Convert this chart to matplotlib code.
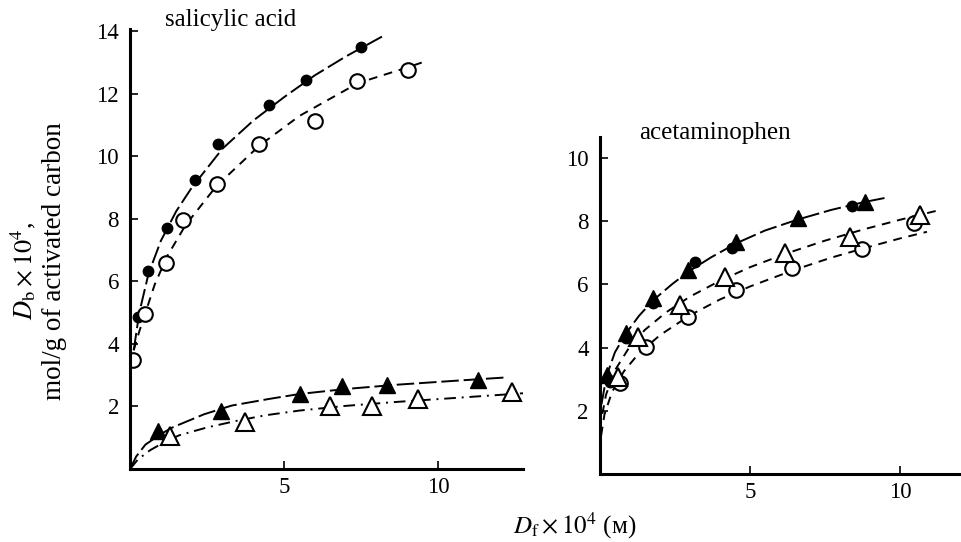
import matplotlib
matplotlib.use("Agg")
import matplotlib.pyplot as plt

plt.rcParams['font.family'] = ['Liberation Serif', 'DejaVu Serif']
plt.rcParams['mathtext.fontset'] = 'stix'

# ---------------- salicylic acid (left panel) ----------------
sa_fc_x = [0.26, 0.58, 1.2, 2.1, 2.87, 4.5, 5.7, 7.5]
sa_fc_y = [4.86, 6.34, 7.7, 9.25, 10.4, 11.65, 12.45, 13.5]
sa_oc_x = [0.1, 0.49, 1.17, 1.73, 2.83, 4.19, 6.0, 7.37, 9.03]
sa_oc_y = [3.5, 4.96, 6.6, 7.97, 9.12, 10.4, 11.14, 12.4, 12.77]
sa_ft_x = [0.92, 2.95, 5.52, 6.88, 8.35, 11.3]
sa_ft_y = [1.2, 1.86, 2.4, 2.66, 2.7, 2.85]
sa_ot_x = [1.3, 3.73, 6.49, 7.86, 9.35, 12.4]
sa_ot_y = [1.06, 1.5, 2.01, 2.01, 2.23, 2.46]

# fitted curves
sa_fc_cx = [0.12, 0.3, 0.6, 1.0, 1.5, 2.0, 3.0, 4.0, 5.0, 6.0, 7.0, 8.2]
sa_fc_cy = [3.8, 5.0, 6.25, 7.3, 8.25, 9.0, 10.25, 11.15, 11.9, 12.6, 13.2, 13.85]
sa_oc_cx = [0.12, 0.3, 0.5, 0.8, 1.2, 1.8, 2.8, 4.2, 5.5, 7.4, 9.0, 9.6]
sa_oc_cy = [3.8, 4.4, 5.0, 5.9, 6.8, 7.8, 9.05, 10.35, 11.3, 12.35, 12.85, 13.05]
sa_ft_cx = [0, 0.2, 0.5, 1.0, 1.4, 2.4, 3.3, 4.5, 5.5, 7.0, 8.7, 10.5, 12.2]
sa_ft_cy = [0, 0.4, 0.78, 1.12, 1.34, 1.75, 2.03, 2.24, 2.4, 2.56, 2.7, 2.82, 2.93]
sa_ot_cx = [0, 0.25, 0.65, 1.1, 1.6, 2.5, 3.5, 4.4, 5.5, 7.0, 8.7, 10.5, 13.0]
sa_ot_cy = [0, 0.3, 0.6, 0.85, 1.08, 1.33, 1.55, 1.72, 1.87, 2.02, 2.15, 2.27, 2.44]

# ---------------- acetaminophen (right panel) ----------------
ac_ft_x = [0.22, 0.87, 1.78, 2.95, 4.55, 6.6, 8.83]
ac_ft_y = [3.13, 4.46, 5.57, 6.46, 7.34, 8.1, 8.6]
ac_fc_x = [0.33, 0.87, 1.78, 3.17, 4.4, 8.4]
ac_fc_y = [2.9, 4.3, 5.4, 6.7, 7.15, 8.48]
ac_ot_x = [0.6, 1.27, 2.67, 4.17, 6.17, 8.33, 10.67]
ac_ot_y = [3.07, 4.34, 5.35, 6.23, 6.99, 7.5, 8.2]
ac_oc_x = [0.67, 1.53, 2.95, 4.55, 6.4, 8.73, 10.47]
ac_oc_y = [2.88, 4.02, 4.97, 5.82, 6.52, 7.12, 7.94]

ac_f_cx = [0.05, 0.22, 0.5, 0.87, 1.3, 1.78, 2.4, 2.95, 3.7, 4.55, 5.5, 6.6, 7.7, 8.8, 9.6]
ac_f_cy = [2.2, 3.1, 3.85, 4.45, 5.0, 5.5, 6.0, 6.4, 6.85, 7.3, 7.7, 8.05, 8.35, 8.6, 8.75]
ac_ot_cx = [0.08, 0.2, 0.5, 1.0, 1.5, 2.2, 3.0, 4.0, 5.0, 6.2, 7.5, 8.8, 10.0, 11.2]
ac_ot_cy = [1.9, 2.5, 3.28, 4.04, 4.56, 5.11, 5.61, 6.11, 6.54, 6.97, 7.38, 7.74, 8.04, 8.32]
ac_oc_cx = [0.04, 0.15, 0.4, 0.8, 1.3, 2.0, 3.0, 4.0, 5.0, 6.4, 7.7, 8.8, 10.0, 10.9]
ac_oc_cy = [1.22, 1.88, 2.59, 3.25, 3.82, 4.39, 5.02, 5.52, 5.93, 6.43, 6.84, 7.14, 7.45, 7.66]

left_yticks = [2, 4, 6, 8, 10, 12, 14]
right_yticks = [2, 4, 6, 8, 10]
xticks = [5, 10]

fig = plt.figure(figsize=(9.61, 5.42), dpi=100)
axL = fig.add_axes([0.1353, 0.1347, 0.4089, 0.8118])
axR = fig.add_axes([0.6243, 0.1255, 0.3746, 0.6218])

long_dash = (0, (9, 2.5))
short_dash = (0, (4.5, 3.5))
lw = 1.4

def style(ax, yt, xmax, ymax):
    ax.set_xlim(0, xmax)
    ax.set_ylim(0, ymax)
    for s in ['top', 'right']:
        ax.spines[s].set_visible(False)
    for s in ['left', 'bottom']:
        ax.spines[s].set_linewidth(2.2)
    ax.set_yticks(yt)
    ax.set_xticks(xticks)
    ax.tick_params(direction='in', length=6, width=1.2, labelsize=16.5, pad=6)
    ax.tick_params(axis='y', pad=8)

# left panel
axL.plot(sa_fc_cx, sa_fc_cy, color='black', lw=lw, linestyle=long_dash)
axL.plot(sa_oc_cx, sa_oc_cy, color='black', lw=lw, linestyle=short_dash)
axL.plot(sa_ft_cx, sa_ft_cy, color='black', lw=lw, linestyle=long_dash)
axL.plot(sa_ot_cx, sa_ot_cy, color='black', lw=lw, linestyle=(0, (6, 3, 1, 3)))
axL.plot(sa_fc_x, sa_fc_y, 'o', color='black', ms=7.5, ls='none')
axL.plot(sa_oc_x, sa_oc_y, 'o', mfc='white', mec='black', mew=1.5, ms=10.5, ls='none')
axL.plot(sa_ft_x, sa_ft_y, '^', color='black', ms=12, ls='none')
axL.plot(sa_ot_x, sa_ot_y, '^', mfc='white', mec='black', mew=1.5, ms=13, ls='none')
style(axL, left_yticks, 12.75, 14.08)
axL.text(1.15, 14.0, 'salicylic acid', fontsize=18, ha='left', va='bottom')

# right panel
axR.plot(ac_f_cx, ac_f_cy, color='black', lw=lw, linestyle=long_dash)
axR.plot(ac_ot_cx, ac_ot_cy, color='black', lw=lw, linestyle=short_dash)
axR.plot(ac_oc_cx, ac_oc_cy, color='black', lw=lw, linestyle=short_dash)
axR.plot(ac_fc_x, ac_fc_y, 'o', color='black', ms=7.5, ls='none')
axR.plot(ac_oc_x, ac_oc_y, 'o', mfc='white', mec='black', mew=1.5, ms=10.5, ls='none')
axR.plot(ac_ft_x, ac_ft_y, '^', color='black', ms=12, ls='none')
axR.plot(ac_ot_x, ac_ot_y, '^', mfc='white', mec='black', mew=1.5, ms=13, ls='none')
style(axR, right_yticks, 12.0, 10.66)
axR.text(1.3, 10.45, 'acetaminophen', fontsize=18, ha='left', va='bottom')

fig.text(0.024, 0.50, r'$D_\mathrm{b}\times10^4$,', rotation=90, fontsize=19,
         ha='center', va='center')
fig.text(0.057, 0.518, 'mol/g of activated carbon', rotation=90, fontsize=19.5,
         ha='center', va='center')
fig.text(0.598, 0.030, r'$D_\mathrm{f}\times10^4$ (м)', fontsize=18,
         ha='center', va='center')

fig.savefig('out.png', dpi=100)
